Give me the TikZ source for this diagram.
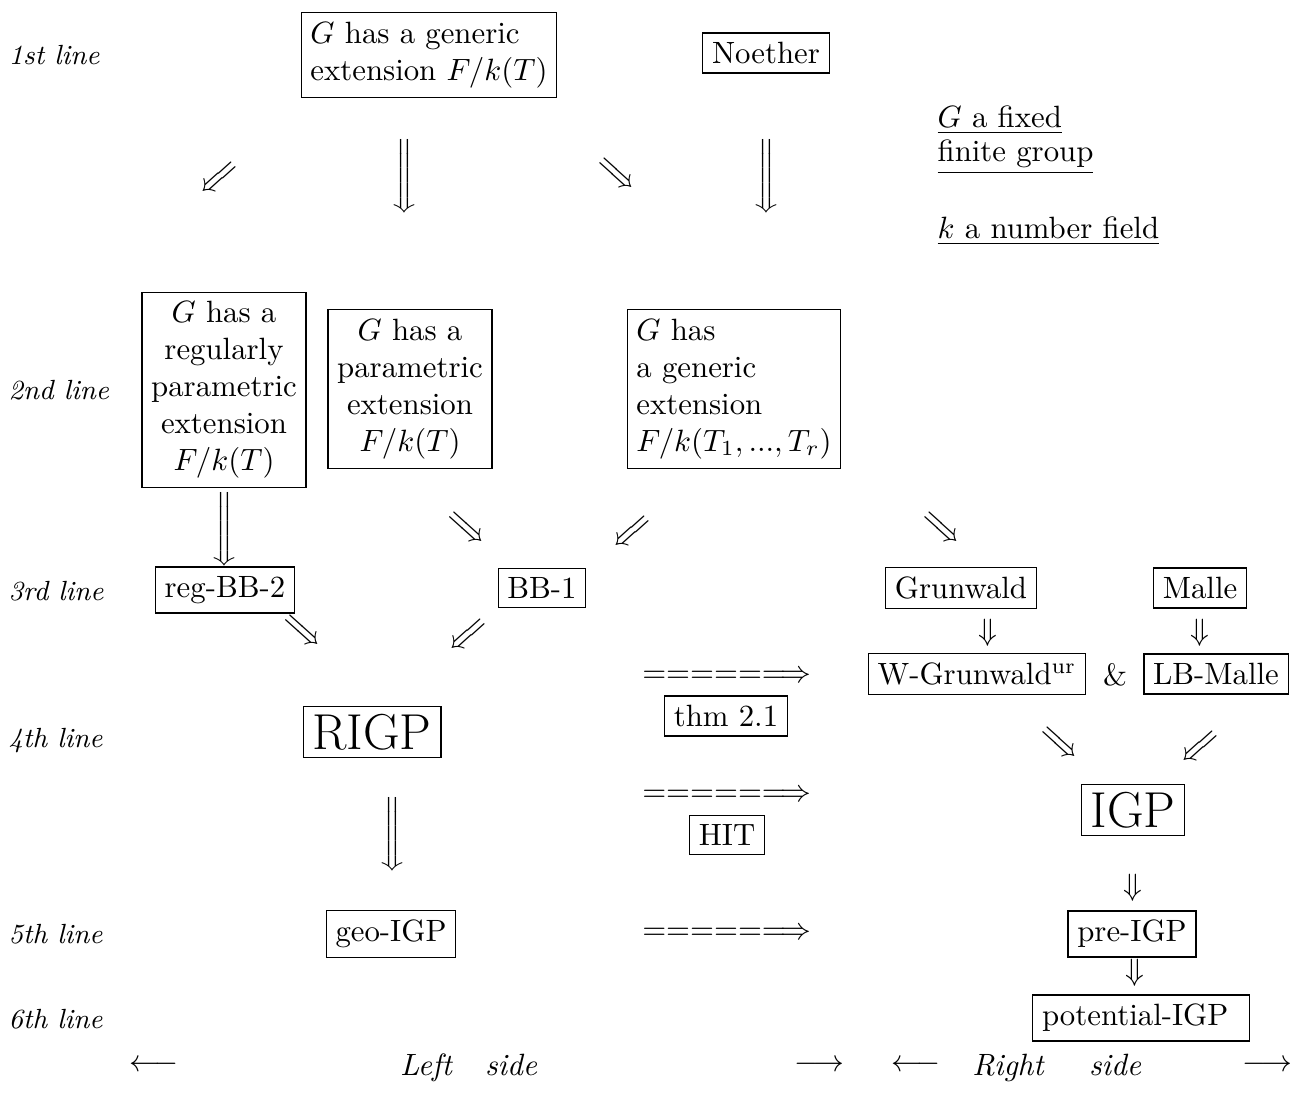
\documentclass[tikz,border=0pt]{standalone}
\usepackage{graphicx}
\begin{document}
\begin{tikzpicture}[x=0.3247pt,y=-0.3247pt,
  box/.style={draw, line width=0.4pt, inner sep=3pt},
  rowlbl/.style={font=\small\itshape, anchor=west, inner sep=0pt},
  glyph/.style={inner sep=0pt},
  sea/.style={glyph, rotate=-42},
  swa/.style={glyph, rotate=-138},
  note/.style={anchor=base west, inner sep=0pt},
  side/.style={font=\itshape, anchor=base, inner sep=0pt},
  big/.style={font=\fontsize{16.4}{19}\selectfont, inner ysep=2.5pt}
]
\useasboundingbox (0,0) rectangle (1297,1111);
\newcommand{\diagarr}{\scalebox{0.87}[1.05]{$\Longrightarrow$}}
\newcommand{\bigdown}{\scalebox{1}[0.8]{$\Bigg\Downarrow$}}
\newcommand{\longimp}{$=====\Longrightarrow$}

% row labels
\node[rowlbl] (l1) at (8,55) {1st line};
\node[rowlbl] (l2) at (8,390) {2nd line};
\node[rowlbl] (l3) at (8,591) {3rd line};
\node[rowlbl] (l4) at (8,741) {4th line};
\node[rowlbl] (l5) at (8,934) {5th line};
\node[rowlbl] (l6) at (8,1019) {6th line};

% row 1
\node[box, align=left] (gen1) at (429,55) {$G$ has a generic\\extension $F/k(T)$};
\node[box] (noether) at (766,53) {Noether};
\node[note] (n1) at (937,128) {\underline{$G$ a fixed}};
\node[note] (n2) at (937,162) {\underline{finite group}};
\node[note] (n3) at (937,239) {\underline{$k$ a number field}};

% arrows 1-2
\node[swa] (sw1) at (217,176) {\diagarr};
\node[glyph] (d1) at (404,176) {\bigdown};
\node[sea] (se1) at (615,176) {\diagarr};
\node[glyph] (d2) at (766,176) {\bigdown};

% row 2
\node[box, align=center] (regpar) at (224,390) {$G$ has a\\regularly\\parametric\\extension\\$F/k(T)$};
\node[box, align=center] (par) at (410,389) {$G$ has a\\parametric\\extension\\$F/k(T)$};
\node[box, align=left] (genr) at (734,389) {$G$ has\\a generic\\extension\\$F/k(T_1,...,T_r)$};

% arrows 2-3
\node[glyph] (d3) at (224,529) {\bigdown};
\node[sea] (se2) at (465,530) {\diagarr};
\node[swa] (sw2) at (630,530) {\diagarr};
\node[sea] (se3) at (940,530) {\diagarr};

% row 3
\node[box] (regbb) at (225,590) {reg-BB-2};
\node[box] (bb1) at (542,588) {BB-1};
\node[box] (grun) at (961,588) {Grunwald};
\node[box] (malle) at (1200,588) {Malle};
\node[glyph] (d4) at (988,633) {$\Downarrow$};
\node[glyph] (d5) at (1200,633) {$\Downarrow$};
\node[sea] (se4) at (301,633) {\diagarr};
\node[swa] (sw3) at (466,633) {\diagarr};

% row 4
\node[glyph] (a1) at (727,677) {\longimp};
\node[box] (thm) at (726,716) {thm 2.1};
\node[box] (wgrun) at (977,674) {W-Grunwald$^{\mathrm{ur}}$};
\node[glyph] (amp) at (1115,675) {\&};
\node[box] (lbmalle) at (1216,674) {LB-Malle};
\node[box, big] (rigp) at (372,732) {RIGP};
\node[sea] (se5) at (1058,745) {\diagarr};
\node[swa] (sw4) at (1198,745) {\diagarr};
\node[glyph] (a2) at (727,796) {\longimp};
\node[box] (hit) at (727,835) {HIT};
\node[box, big] (igp) at (1133,810) {IGP};
\node[glyph] (d6) at (392,834) {\bigdown};

% row 5-6
\node[box] (geo) at (391,934) {geo-IGP};
\node[glyph] (a3) at (727,934) {\longimp};
\node[glyph] (d7) at (1133,888) {$\Downarrow$};
\node[box] (pre) at (1132,934) {pre-IGP};
\node[glyph] (d8) at (1135,973) {$\Downarrow$};
\node[box] (pot) at (1141,1018) {potential-IGP\kern3.8pt};

% bottom
\node[glyph] (la1) at (154,1066) {$\longleftarrow$};
\node[side] (left) at (426,1075) {Left};
\node[side] (s1) at (511,1075) {side};
\node[glyph] (ra1) at (819,1066) {$\longrightarrow$};
\node[glyph] (la2) at (916,1066) {$\longleftarrow$};
\node[side] (right) at (1008,1075) {Right};
\node[side] (s2) at (1115,1075) {side};
\node[glyph] (ra2) at (1267,1066) {$\longrightarrow$};
\end{tikzpicture}
\end{document}
